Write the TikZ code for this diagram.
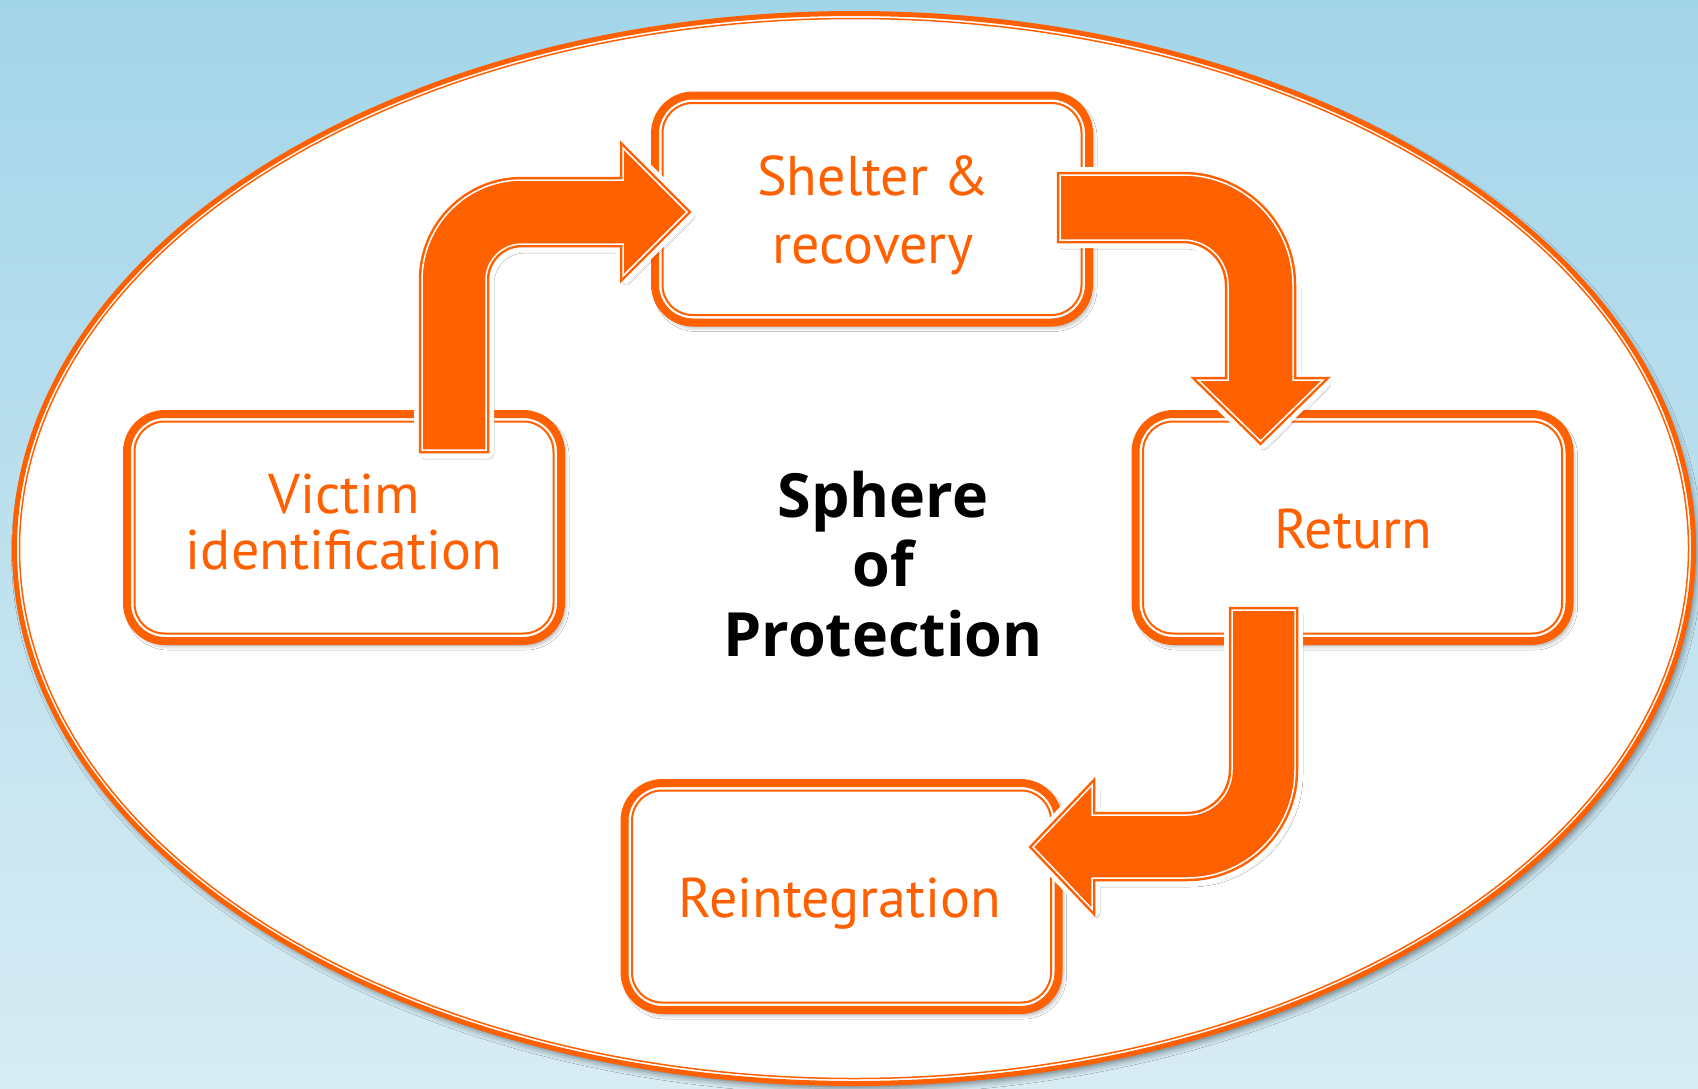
\documentclass[tikz,border=0pt]{standalone}
\usepackage{fontspec}
\setmainfont{PT Sans}
\newfontfamily\centrefont{Open Sans}
\usetikzlibrary{shadows.blur}
\definecolor{orng}{RGB}{255,96,0}
\definecolor{bgtop}{RGB}{163,213,233}
\definecolor{bgbot}{RGB}{216,236,244}
\tikzset{
  procbox/.style={draw=orng, line width=8pt, fill=white, rounded corners=38pt,
    minimum width=434pt, minimum height=227pt, outer sep=0pt, inner sep=0pt,
    blur shadow={shadow xshift=3pt, shadow yshift=-4pt, shadow blur radius=5pt, shadow opacity=45}},
  innerline/.style={draw=orng, line width=2pt, rounded corners=30pt},
  lbl/.style={text=orng, align=center, inner sep=0pt, font=\fontsize{56}{56}\selectfont},
  centre/.style={text=black, align=center, inner sep=0pt, font=\centrefont\bfseries\fontsize{61}{69.5}\selectfont},
  arrowshadow/.style={fill=white, blur shadow={shadow xshift=3pt, shadow yshift=-4pt, shadow blur radius=5pt, shadow opacity=45}},
}
\newcommand\flowarrow[1]{%
  \path[arrowshadow] #1;
  \draw[white, line width=16pt, line join=round] #1;
  \fill[orng] #1;
  \draw[orng, line width=6.5pt] #1;
  \draw[white, line width=1.5pt] #1;
}
\begin{document}
\begin{tikzpicture}[x=1pt, y=-1pt]
\useasboundingbox (0,0) rectangle (1698,1088);
\shade[top color=bgtop, bottom color=bgbot] (0,0) rectangle (1698,1088);
% sphere
\draw[orng, line width=5pt, fill=white,
  blur shadow={shadow xshift=3pt, shadow yshift=-5pt, shadow blur radius=6pt, shadow opacity=45}]
  (854,548.5) ellipse [x radius=839.5, y radius=535];
\draw[orng, line width=1.5pt] (854,548.5) ellipse [x radius=834.5, y radius=530];
% boxes
\node[procbox] (victim) at (344,527.5) {};
\node[procbox] (shelter) at (872,209) {};
\node[procbox] (return) at (1352.5,527.5) {};
\node[procbox] (reinteg) at (841.5,896.5) {};
\foreach \b in {victim,shelter,return,reinteg}{
  \draw[innerline] ([shift={(7.5,7.5)}]\b.north west) rectangle ([shift={(-7.5,-7.5)}]\b.south east);
}
% arrows
\flowarrow{(422,450) -- (422,280) arc[start angle=180, end angle=270, radius=100] -- (623,180) -- (623,148) -- (687,212) -- (623,276) -- (623,244) -- (522,244) arc[start angle=270, end angle=180, radius=36] -- (486,450) -- cycle}
\flowarrow{(1060,175) -- (1183,175) arc[start angle=270, end angle=360, radius=110] -- (1293,380) -- (1323,380) -- (1260.5,441) -- (1198,380) -- (1228,380) -- (1228,285) arc[start angle=0, end angle=-90, radius=45] -- (1060,240) -- cycle}
\flowarrow{(1232,610) -- (1295,610) -- (1295,770) arc[start angle=0, end angle=90, radius=108] -- (1092,878) -- (1092,909) -- (1033,847) -- (1092,785) -- (1092,815) -- (1187,815) arc[start angle=90, end angle=0, radius=45] -- cycle}
% labels
\node[lbl] (victimtext) at (344,522) {Victim\\identification};
\node[lbl, font=\fontsize{56}{68}\selectfont] (sheltertext) at (873,215) {Shelter \&\\recovery};
\node[lbl] (returntext) at (1353,529.5) {Return};
\node[lbl] (reintegtext) at (840,903.5) {Reintegration};
\node[centre] (spheretext) at (883,564) {Sphere\\of\\Protection};
\end{tikzpicture}
\end{document}
